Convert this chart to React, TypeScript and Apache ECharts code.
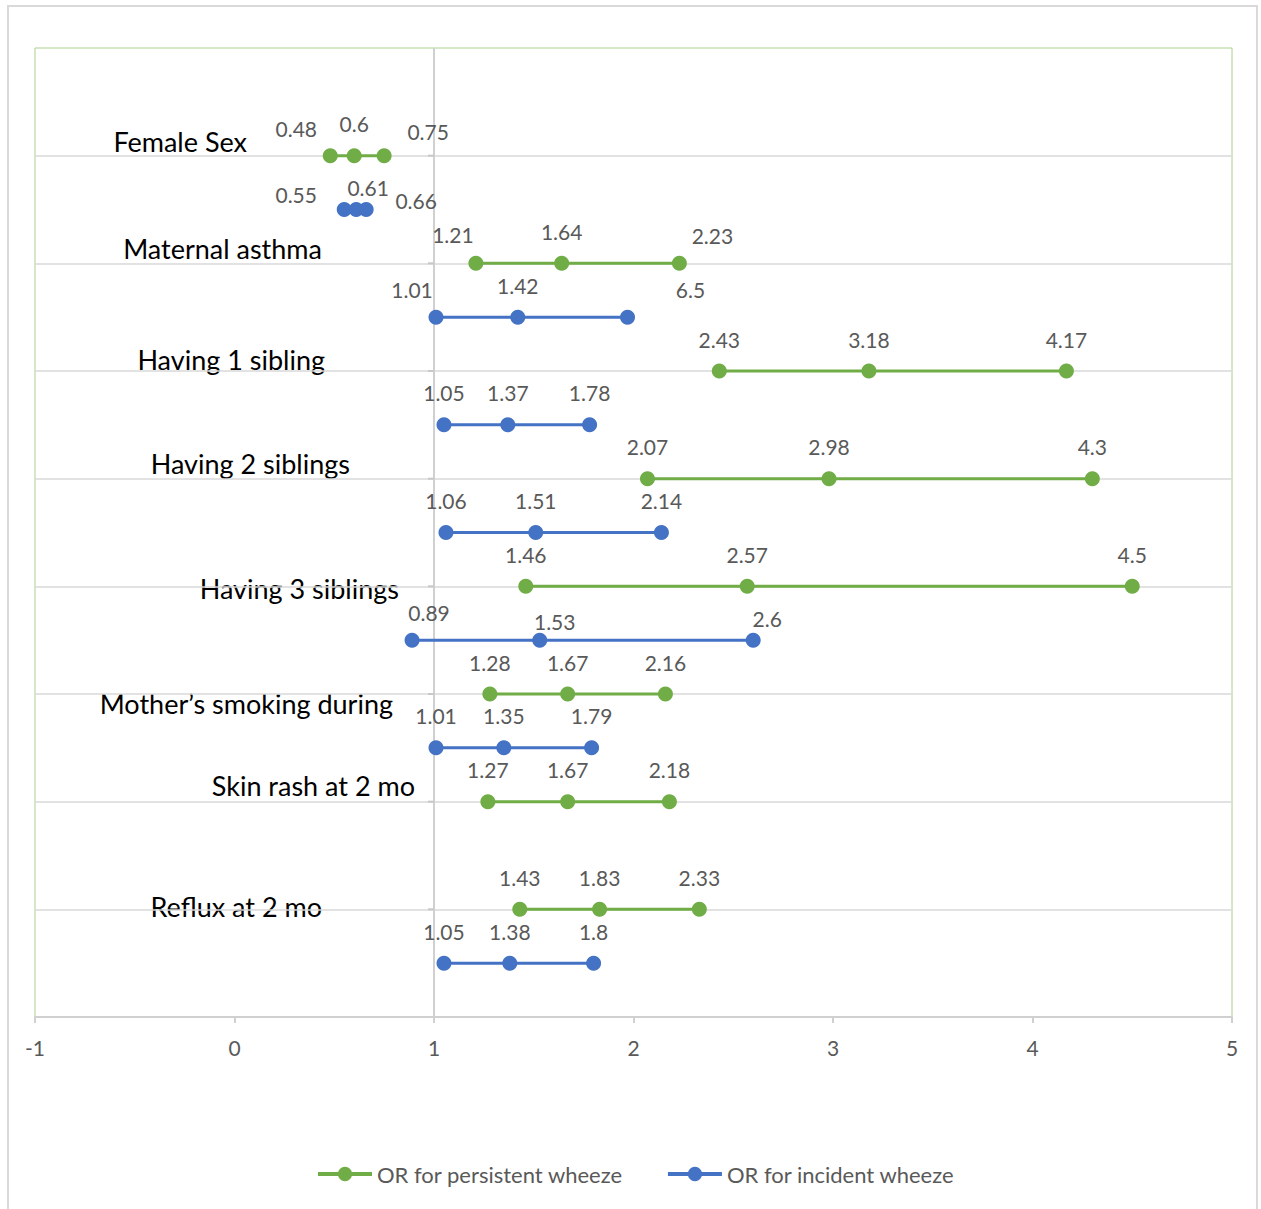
import React, { useEffect, useRef } from "react";
import * as echarts from "echarts";

// ---------- data ----------
const categories = [
  "Female Sex",
  "Maternal asthma",
  "Having 1 sibling",
  "Having 2 siblings",
  "Having 3 siblings",
  "Mother’s smoking during",
  "Skin rash at 2 mo",
  "Reflux at 2 mo",
];

const persistentName = "OR for persistent wheeze";
const persistentLow = [0.48, 1.21, 2.43, 2.07, 1.46, 1.28, 1.27, 1.43];
const persistentMid = [0.6, 1.64, 3.18, 2.98, 2.57, 1.67, 1.67, 1.83];
const persistentHigh = [0.75, 2.23, 4.17, 4.3, 4.5, 2.16, 2.18, 2.33];

const incidentName = "OR for incident wheeze";
const incidentLow = [0.55, 1.01, 1.05, 1.06, 0.89, 1.01, null, 1.05];
const incidentMid = [0.61, 1.42, 1.37, 1.51, 1.53, 1.35, null, 1.38];
const incidentHigh = [0.66, 1.97, 1.78, 2.14, 2.6, 1.79, null, 1.8];
// the original chart shows a label that differs from the plotted point
const incidentLabelOverrides: Record<string, string> = { "1-2": "6.5" };

const xMin = -1;
const xMax = 5;
const xInterval = 1;
const yAxisCrossesAt = 1;

// ---------- layout / style ----------
const GREEN = "#70AD47";
const BLUE = "#4472C4";
const FONT = "Lato";

const labelNudges: Record<string, [number, number]> = {
  "p-0-0": [-34, 5],
  "p-0-2": [44, 8],
  "i-0-0": [-48, 17],
  "i-0-1": [12, 10],
  "i-0-2": [50, 23],
  "p-1-0": [-23, 3],
  "p-1-2": [33, 4],
  "i-1-0": [-24, 4],
  "i-1-2": [63, 4],
  "i-4-0": [17, 4],
  "i-4-1": [15, 13],
  "i-4-2": [14, 10],
};

const categoryLabelLayout: [number, number][] = [
  [247, 141],
  [322, 248],
  [325, 359],
  [350, 463],
  [399, 588],
  [393, 703],
  [415, 785],
  [322, 906],
];

function buildSeries(
  key: string,
  name: string,
  color: string,
  lows: (number | null)[],
  mids: (number | null)[],
  highs: (number | null)[],
  yShift: number,
  overrides: Record<string, string>
) {
  const out: any[] = [];
  lows.forEach((lo, i) => {
    if (lo == null) return;
    const y = categories.length - i - yShift;
    const vals = [lo, mids[i] as number, highs[i] as number];
    out.push({
      type: "line",
      name,
      symbol: "circle",
      symbolSize: 15,
      z: 3,
      itemStyle: { color },
      lineStyle: { color, width: 3 },
      label: {
        show: true,
        position: "top",
        distance: 14,
        color: "#595959",
        fontSize: 21,
        fontFamily: FONT,
      },
      data: vals.map((v, k) => ({
        value: [v, y],
        label: {
          formatter: overrides[`${i}-${k}`] ?? String(v),
          offset: labelNudges[`${key}-${i}-${k}`] ?? [0, 0],
        },
      })),
    });
  });
  return out;
}

export default function App() {
  const ref = useRef<HTMLDivElement>(null);

  useEffect(() => {
    document.body.style.margin = "0";
    if (!ref.current) return;
    const chart = echarts.init(ref.current, null, { renderer: "svg" });

    const series: any[] = [
      {
        type: "custom",
        name: "axis",
        coordinateSystem: "cartesian2d",
        silent: true,
        z: 1,
        data: [[yAxisCrossesAt, 0]],
        renderItem: (_params: any, api: any) => {
          const top = api.coord([yAxisCrossesAt, categories.length + 1]);
          const bot = api.coord([yAxisCrossesAt, 0]);
          const children: any[] = [
            {
              type: "line",
              shape: { x1: top[0], y1: top[1], x2: bot[0], y2: bot[1] },
              style: { stroke: "#D0D0D0", lineWidth: 2 },
            },
          ];
          for (let k = 1; k <= categories.length; k++) {
            const p = api.coord([yAxisCrossesAt, k]);
            children.push({
              type: "line",
              shape: { x1: p[0] - 6, y1: p[1], x2: p[0], y2: p[1] },
              style: { stroke: "#C8C8C8", lineWidth: 2 },
            });
          }
          return { type: "group", children };
        },
      },
      ...buildSeries("p", persistentName, GREEN, persistentLow, persistentMid, persistentHigh, 0, {}),
      ...buildSeries("i", incidentName, BLUE, incidentLow, incidentMid, incidentHigh, 0.5, incidentLabelOverrides),
    ];

    const graphic: any[] = [
      {
        type: "rect",
        z: -10,
        silent: true,
        shape: { x: 8, y: 6, width: 1249, height: 1260 },
        style: { fill: "none", stroke: "#D9D9D9", lineWidth: 2 },
      },
      ...categories.map((c, i) => ({
        type: "text",
        x: categoryLabelLayout[i][0],
        y: categoryLabelLayout[i][1],
        silent: true,
        style: {
          text: c,
          fill: "#000000",
          fontSize: 27,
          fontFamily: FONT,
          textAlign: "right",
          textVerticalAlign: "middle",
        },
      })),
    ];

    chart.setOption({
      animation: false,
      backgroundColor: "#ffffff",
      grid: {
        left: 35,
        right: 29,
        top: 48,
        bottom: 192,
        show: true,
        borderColor: "#A9D18E",
        borderWidth: 1,
        backgroundColor: "transparent",
      },
      legend: {
        data: [persistentName, incidentName],
        left: 316,
        top: 1163,
        padding: 0,
        itemWidth: 54,
        itemHeight: 18,
        itemGap: 43,
        lineStyle: { width: 4 },
        textStyle: { color: "#595959", fontSize: 22, fontFamily: FONT },
      },
      xAxis: {
        type: "value",
        min: xMin,
        max: xMax,
        interval: xInterval,
        position: "bottom",
        axisLine: { show: true, onZero: false, lineStyle: { color: "#D0D0D0", width: 2 } },
        axisTick: { show: true, length: 6, lineStyle: { color: "#D0D0D0", width: 2 } },
        axisLabel: { color: "#595959", fontSize: 21, fontFamily: FONT, margin: 20 },
        splitLine: { show: false },
      },
      yAxis: {
        type: "value",
        min: 0,
        max: categories.length + 1,
        interval: 1,
        axisLine: { show: false },
        axisTick: { show: false },
        axisLabel: { show: false },
        splitLine: {
          show: true,
          showMinLine: false,
          showMaxLine: false,
          lineStyle: { color: "#D9D9D9", width: 1.5 },
        },
      },
      graphic,
      series,
    });

    return () => chart.dispose();
  }, []);

  return <div ref={ref} style={{ width: 1261, height: 1209 }} />;
}
